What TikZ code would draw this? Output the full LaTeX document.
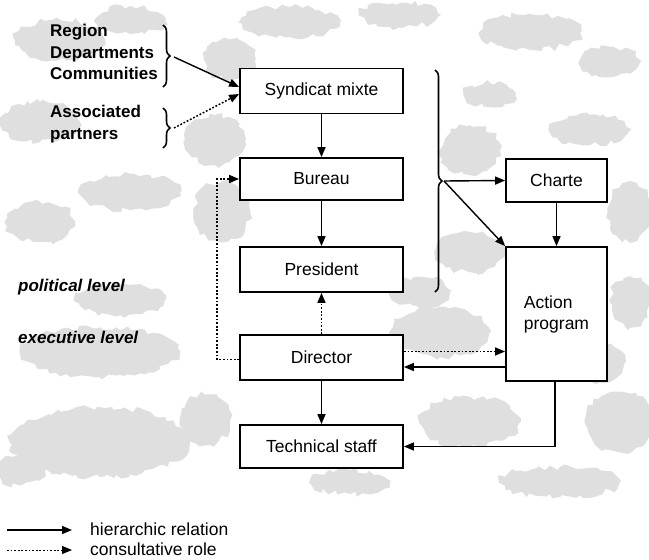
\documentclass[tikz,border=0pt]{standalone}
\usepackage{fontspec}
\setmainfont{Liberation Sans}
\usetikzlibrary{arrows.meta,decorations.pathreplacing,decorations.pathmorphing}
\begin{document}
\begin{tikzpicture}[x=1pt,y=-1pt,
  box/.style={draw,line width=1.8pt,fill=white,minimum width=163pt,font=\fontsize{17.5}{21}\selectfont,inner sep=2pt},
  hier/.style={line width=1.4pt,-{Triangle[length=10pt,width=8pt]}},
  cons/.style={line width=1.5pt,dash pattern=on 1.8pt off 1.8pt,-{Triangle[length=10pt,width=8pt]}},
  bracedeco/.style={decorate,decoration={brace,amplitude=7pt},line width=1.6pt},
  lbl/.style={font=\fontsize{17}{21.5}\selectfont\bfseries,align=left,inner sep=0pt},
  leg/.style={font=\fontsize{17.5}{21}\selectfont,inner sep=0pt,anchor=west},
  lvl/.style={font=\fontsize{17}{19}\selectfont\bfseries\itshape,inner sep=0pt,anchor=west},
  blob/.style={fill=gray!25,draw=none,decorate,decoration={random steps,segment length=5pt,amplitude=3pt}}]
\useasboundingbox (0,0) rectangle (649,560);
\pgfmathsetseed{7}
% background texture
\foreach \x/\y/\a/\b in {60/40/45/20,130/20/35/14,290/22/50/15,400/15/40/12,530/32/50/18,610/62/30/15,
  40/122/40/20,215/140/30/25,130/192/50/18,40/222/35/20,222/212/28/30,470/150/30/25,590/130/40/15,
  630/212/22/30,470/252/35/20,420/292/30/15,630/302/20/25,120/300/45/15,100/352/80/25,440/332/50/25,
  470/422/50/25,620/422/35/30,100/442/90/35,205/420/25/25,350/482/40/12,560/482/60/15,600/362/25/20,
  230/60/25/20,490/95/25/12,20/470/25/15}
  {\path[blob] (\x,\y) ellipse [x radius=\a, y radius=\b];}
% boxes
\node[box,minimum height=45pt] (synd) at (321.5,91) {Syndicat mixte};
\node[box,minimum height=42pt] (bureau) at (321.5,179) {Bureau};
\node[box,minimum height=45pt] (pres) at (321.5,269.5) {President};
\node[box,minimum height=45pt] (dir) at (321.5,357.5) {Director};
\node[box,minimum height=43pt] (tech) at (321.5,446.5) {Technical staff};
\node[box,minimum width=101pt,minimum height=43pt] (charte) at (556.5,180.5) {Charte};
\node[box,minimum width=101pt,minimum height=134pt,align=left] (action) at (556.5,314) {Action\\program};
% left labels
\node[lbl,anchor=north west] (members) at (50,24) {Region\\Departments\\Communities};
\node[lbl,anchor=north west] (partners) at (50,105) {Associated\\partners};
\node[lvl] (pol) at (18,287) {political level};
\node[lvl] (exe) at (18,337) {executive level};
% braces
\draw[bracedeco] (163,25) -- (163,87);
\draw[bracedeco] (163,108) -- (163,148);
\draw[bracedeco] (435,70) -- (435,292);
\coordinate (b1) at (174,57);
\coordinate (b2) at (174,128);
\coordinate (b3) at (444,181);
% connectors
\draw[hier] (b1) -- ([yshift=4pt]synd.west);
\draw[cons] (b2) -- ([yshift=-3pt]synd.west);
\draw[hier] (synd) -- (bureau);
\draw[hier] (bureau) -- (pres);
\draw[cons] (dir) -- (pres);
\draw[hier] (dir) -- (tech);
\draw[cons] ([yshift=-2pt]dir.west) -- ++(-22,0) |- (bureau.west);
\draw[hier] (b3) -- (charte.west);
\draw[hier] (b3) -- (action.north west);
\draw[hier] (charte) -- (action);
\draw[cons] ([yshift=6pt]dir.east) -- ([yshift=6pt]dir.east -| action.west);
\draw[hier] ([yshift=-9.5pt]dir.east -| action.west) -- ([yshift=-9.5pt]dir.east);
\draw[hier] ([xshift=-1.5pt]action.south) |- (tech.east);
% legend
\coordinate (l1a) at (7,530);
\coordinate (l1b) at (72,530);
\coordinate (l2a) at (7,550);
\coordinate (l2b) at (72,550);
\draw[hier] (l1a) -- (l1b);
\draw[cons,line width=1pt] (l2a) -- (l2b);
\node[leg] (lg1) at (90,529) {hierarchic relation};
\node[leg] (lg2) at (90,549) {consultative role};
\end{tikzpicture}
\end{document}
